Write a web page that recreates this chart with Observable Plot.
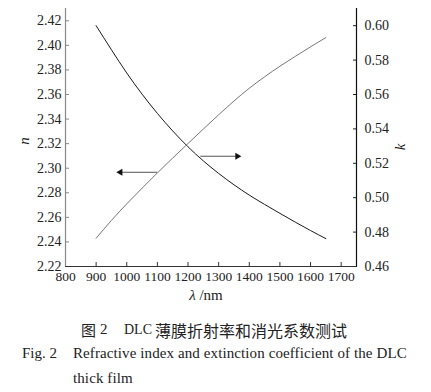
<!DOCTYPE html>
<html>
<head>
<meta charset="utf-8">
<script src="https://cdn.jsdelivr.net/npm/d3@7"></script>
<script src="https://cdn.jsdelivr.net/npm/@observablehq/plot@0.6"></script>
<style>
  html, body { margin: 0; padding: 0; background: #fff; }
  #wrap { position: relative; width: 431px; height: 392px; overflow: hidden; }
  #chart svg { display: block; font-family: "Liberation Serif", serif; }
  #chart svg text { font-family: "Liberation Serif", serif; }
  .cap { position: absolute; white-space: nowrap; color: #222; line-height: 1; font-family: "Liberation Serif", serif; }
  .cjk { font-family: "Noto Sans CJK SC", sans-serif; }
</style>
</head>
<body>
<div id="wrap">
  <div id="chart"></div>
  <div class="cap cjk" style="left:81px; top:322px; font-size:15px;">图</div>
  <div class="cap" style="left:100px; top:322px; font-size:15px;">2</div>
  <div class="cap" style="left:124px; top:323px; font-size:14px;">DLC</div>
  <div class="cap cjk" style="left:155px; top:322px; font-size:16px;">薄膜折射率和消光系数测试</div>
  <div class="cap" style="left:22px; top:346px; font-size:15px;">Fig. 2</div>
  <div class="cap" style="left:73px; top:346px; font-size:15px; letter-spacing:0.1px;">Refractive index and extinction coefficient of the DLC</div>
  <div class="cap" style="left:73px; top:371px; font-size:15px; letter-spacing:0.1px;">thick film</div>
</div>
<script>
// wavelength (nm)
const lambda = [900, 950, 1000, 1050, 1100, 1150, 1200, 1250, 1300, 1350, 1400, 1450, 1500, 1550, 1600, 1650];
// refractive index n (left axis)
const nValues = [2.2430, 2.2575, 2.2710, 2.2838, 2.2962, 2.3083, 2.3201, 2.3319, 2.3435, 2.3547, 2.3651, 2.3744, 2.3830, 2.3910, 2.3988, 2.4063];
// extinction coefficient k (right axis)
const kValues = [0.600, 0.586, 0.5725, 0.5602, 0.5490, 0.5388, 0.5296, 0.5214, 0.5141, 0.5075, 0.5015, 0.4961, 0.4909, 0.4858, 0.4809, 0.4762];

const xTicks = [800, 900, 1000, 1100, 1200, 1300, 1400, 1500, 1600, 1700];
const nTicks = [2.22, 2.24, 2.26, 2.28, 2.30, 2.32, 2.34, 2.36, 2.38, 2.40, 2.42];
const kTicks = [0.46, 0.48, 0.50, 0.52, 0.54, 0.56, 0.58, 0.60];

const xDomain = [800, 1750];
const nDomain = [2.22, 2.43];
const kDomain = [0.46, 0.61];

// arrows: n arrow points left, k arrow points right
const arrowN = {from: 1100, to: 979, n: 2.2967};
const arrowK = {from: 1240, to: 1361, k: 0.5241};

// map k onto the n scale (dual axis)
const kToN = k => nDomain[0] + (k - kDomain[0]) * (nDomain[1] - nDomain[0]) / (kDomain[1] - kDomain[0]);
const nToK = n => kDomain[0] + (n - nDomain[0]) * (kDomain[1] - kDomain[0]) / (nDomain[1] - nDomain[0]);

const nData = lambda.map((l, i) => ({l, v: nValues[i]}));
const kData = lambda.map((l, i) => ({l, v: kToN(kValues[i])}));

const arrowData = [
  {x1: arrowN.from, x2: arrowN.to, y: arrowN.n, rot: -90},
  {x1: arrowK.from, x2: arrowK.to, y: kToN(arrowK.k), rot: 90}
];

const plot = Plot.plot({
  width: 431,
  height: 305,
  marginLeft: 65,
  marginRight: 75,
  marginTop: 8,
  marginBottom: 39,
  style: "font-family: 'Liberation Serif', serif; font-size: 14px; color: #222; background: #fff;",
  x: {domain: xDomain},
  y: {domain: nDomain},
  marks: [
    Plot.axisX(xTicks, {tickSize: -4, tickPadding: 9, fontSize: 13.5, stroke: "#333", fill: "#222", label: null, tickFormat: d => String(d)}),
    Plot.axisY(nTicks, {anchor: "left", tickSize: -4, tickPadding: 8, fontSize: 14, stroke: "#888", fill: "#222", label: null, tickFormat: d => d.toFixed(2)}),
    Plot.axisY(kTicks.map(kToN), {anchor: "right", tickSize: -4, tickPadding: 12, fontSize: 14, stroke: "#222", fill: "#222", label: null, tickFormat: d => nToK(d).toFixed(2)}),
    Plot.ruleX([xDomain[0]], {stroke: "#888", strokeWidth: 1.2}),
    Plot.ruleX([xDomain[1]], {stroke: "#111", strokeWidth: 1.2}),
    Plot.ruleY([nDomain[0]], {stroke: "#333", strokeWidth: 1.2}),
    Plot.line(kData, {x: "l", y: "v", stroke: "#1a1a1a", strokeWidth: 1, curve: "natural"}),
    Plot.line(nData, {x: "l", y: "v", stroke: "#666", strokeWidth: 0.9, curve: "natural"}),
    Plot.link(arrowData, {x1: "x1", x2: "x2", y1: "y", y2: "y", stroke: "#555", strokeWidth: 1}),
    Plot.dot(arrowData, {x: "x2", y: "y", symbol: "triangle", r: 2.6, fill: "#111", stroke: "none", rotate: "rot"})
  ]
});
document.getElementById("chart").appendChild(plot);

// axis titles with italic symbols
const svg = d3.select(plot);
const xl = svg.append("text").attr("x", 206).attr("y", 300).attr("text-anchor", "middle")
  .attr("font-size", 15).attr("fill", "#222");
xl.append("tspan").attr("font-style", "italic").text("λ");
xl.append("tspan").text(" /nm");
svg.append("text").attr("transform", "translate(29,141) rotate(-90)").attr("text-anchor", "middle")
  .attr("font-style", "italic").attr("font-size", 15).attr("fill", "#222").text("n");
svg.append("text").attr("transform", "translate(405,147) rotate(-90)").attr("text-anchor", "middle")
  .attr("font-style", "italic").attr("font-size", 15).attr("fill", "#222").text("k");
// force the serif face on every SVG text
svg.selectAll("text").style("font-family", "'Liberation Serif', serif");
</script>
</body>
</html>
